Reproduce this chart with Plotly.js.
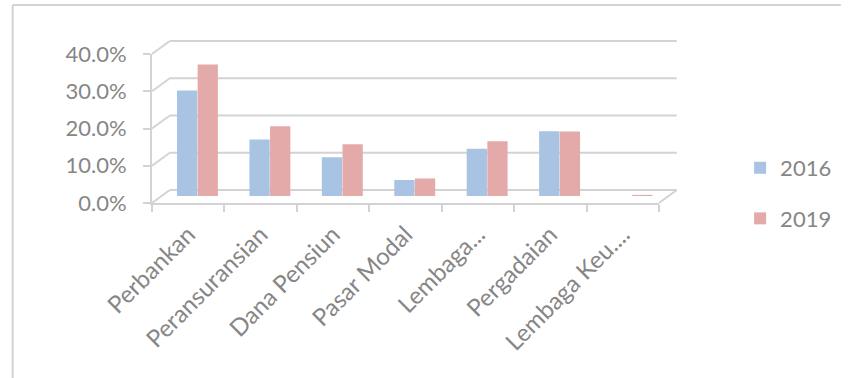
<!DOCTYPE html>
<html>
<head>
<meta charset="utf-8">
<script src="https://cdn.plot.ly/plotly-3.0.1.min.js"></script>
<style>html,body{margin:0;padding:0;background:#fff;}#chart{width:849px;height:378px;}</style>
</head>
<body>
<div id="chart"></div>
<script>
var categories = ["Perbankan", "Peransuransian", "Dana Pensiun", "Pasar Modal", "Lembaga...", "Pergadaian", "Lembaga Keu...."];
var values2016 = [0.283, 0.152, 0.104, 0.043, 0.127, 0.174, 0.0];
var values2019 = [0.353, 0.187, 0.139, 0.047, 0.147, 0.173, 0.003];
var seriesNames = ["2016", "2019"];
var yTickVals = [0, 0.1, 0.2, 0.3, 0.4];

var gridColor = "#d3d3d3";
var textColor = "#868686";
var fontFam = "Lato, 'Open Sans', sans-serif";

var traces = [
  {type: "bar", name: seriesNames[0], x: categories, y: values2016, xaxis: "x", yaxis: "y",
   offset: -0.155, width: 0.28,
   marker: {color: "#a9c3e2", line: {width: 0}},
   legendgroup: "a"},
  {type: "bar", name: seriesNames[1], x: categories, y: values2019, xaxis: "x", yaxis: "y",
   offset: 0.13, width: 0.28,
   marker: {color: "#e4aaaa", line: {width: 0}},
   legendgroup: "b"},
  {type: "scatter", x: [], y: [], xaxis: "x", yaxis: "y2", showlegend: false, hoverinfo: "skip"}
];

// 3D-style back wall offsets (paper units)
var dx = 18 / 513, dy = 13 / 149;
var shapes = [];
yTickVals.forEach(function (v, i) {
  var yp = i / (yTickVals.length - 1);
  shapes.push({type: "line", xref: "paper", yref: "paper", x0: dx, x1: 1 + dx, y0: yp + dy, y1: yp + dy,
    line: {color: gridColor, width: 2}, layer: "below"});
  shapes.push({type: "line", xref: "paper", yref: "paper", x0: 0, x1: dx, y0: yp, y1: yp + dy,
    line: {color: gridColor, width: 2}, layer: "below"});
});
shapes.push({type: "line", xref: "paper", yref: "paper", x0: 1, x1: 1 + dx, y0: 0, y1: dy,
  line: {color: gridColor, width: 2}, layer: "below"});
// outer frame
var fx = (11 - 152) / 513, fy = (203 - 5) / 149;
shapes.push({type: "line", xref: "paper", yref: "paper", x0: fx, x1: (849 - 152) / 513, y0: fy, y1: fy,
  line: {color: "#d2d2d2", width: 2}});
shapes.push({type: "line", xref: "paper", yref: "paper", x0: fx, x1: fx, y0: fy, y1: (203 - 378) / 149,
  line: {color: "#d2d2d2", width: 2}});

var layout = {
  width: 849, height: 378,
  margin: {l: 152, r: 184, t: 54, b: 175, pad: 0},
  paper_bgcolor: "#ffffff", plot_bgcolor: "rgba(0,0,0,0)",
  font: {family: fontFam, color: textColor, size: 18},
  showlegend: true,
  legend: {x: 1.16, y: 0.064, xanchor: "left", yanchor: "middle", traceorder: "grouped",
    tracegroupgap: 19, font: {size: 22, color: textColor, family: fontFam}, bgcolor: "rgba(0,0,0,0)"},
  barmode: "group",
  xaxis: {type: "category", showgrid: false, showline: true, linecolor: gridColor, linewidth: 2,
    ticks: "outside", tickson: "boundaries", ticklen: 7, tickcolor: gridColor, tickwidth: 2,
    tickangle: -45, ticklabelstandoff: 6, tickfont: {size: 24, color: textColor},
    range: [-0.5, 6.5], fixedrange: true},
  yaxis: {range: [-0.0188, 0.3812], showgrid: false, showline: false, showticklabels: false,
    ticks: "", zeroline: false, fixedrange: true},
  yaxis2: {overlaying: "y", side: "left", range: [0, 0.4], tickvals: yTickVals, tickformat: ".1%",
    showgrid: false, zeroline: false, showline: true, linecolor: gridColor, linewidth: 2,
    ticks: "outside", ticklen: 7, tickcolor: gridColor, tickwidth: 2, ticklabelstandoff: 12,
    tickfont: {size: 22, color: textColor}, fixedrange: true},
  shapes: shapes
};

Plotly.newPlot("chart", traces, layout, {displayModeBar: false, staticPlot: true});
</script>
</body>
</html>
